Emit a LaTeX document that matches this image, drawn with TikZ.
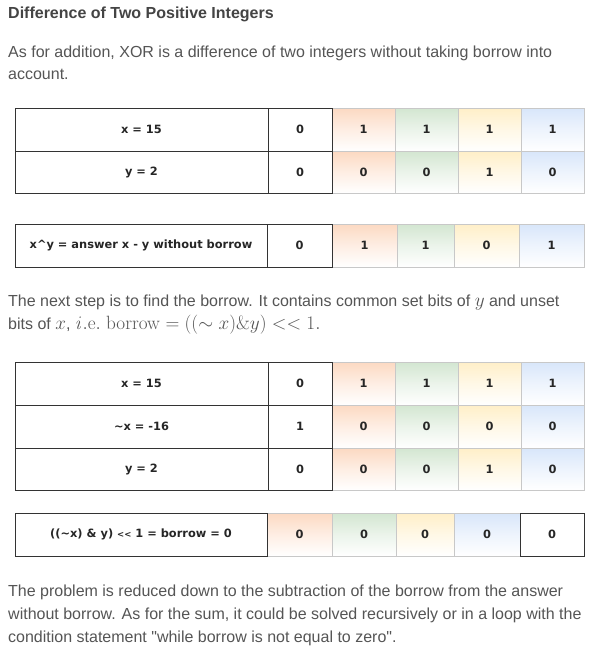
\RequirePackage{fix-cm}
\documentclass[tikz,border=0pt]{standalone}
\usepackage[no-math]{fontspec}
\setmainfont{Liberation Sans}
\newfontfamily\qf{Liberation Sans}
\newfontfamily\cellfont{DejaVu Sans}
\usetikzlibrary{calc}
\definecolor{txt}{HTML}{555555}
\definecolor{head}{HTML}{444444}
\definecolor{dk}{HTML}{333333}
\definecolor{lt}{HTML}{C8C8C8}
\definecolor{cor}{HTML}{FCD9C2}
\definecolor{cgr}{HTML}{D3E6D1}
\definecolor{cye}{HTML}{FFEFC8}
\definecolor{cbl}{HTML}{D8E6FA}
\tikzset{
  para/.style={anchor=base west, inner sep=0pt, text=txt, font=\fontsize{16}{19}\selectfont},
  cellbase/.style={inner sep=0pt, outer sep=0pt, font=\cellfont\bfseries\fontsize{11.4}{13}\selectfont, text=black!85},
  wcell/.style={cellbase, draw=dk, line width=0.9pt, fill=white},
  ccell/.style={cellbase, draw=lt, line width=0.8pt, top color=#1, bottom color=white, middle color=#1!45!white},
}
% \cellat{name}{x1}{y1}{x2}{y2}{style}{text}
\newcommand{\cellat}[7]{\node[#6, minimum width={#4-#2}, minimum height={#5-#3}] (#1) at ({(#2+#4)/2},{(#3+#5)/2}) {#7};}
\newcommand{\mth}[1]{{\fontsize{19.2}{20}\selectfont$#1$}}
\begin{document}
\begin{tikzpicture}[x=1pt,y=-1pt]
\useasboundingbox (0,0) rectangle (602,665);
\fill[white] (0,0) rectangle (602,665);
% texts
\node[para, text=head, font=\bfseries\fontsize{16}{18}\selectfont] (h) at (8,18) {Difference of Two Positive Integers};
\node[para] (p1) at (8,57) {As for addition, XOR is a difference of two integers without taking borrow into};
\node[para] (p2) at (8,79.5) {account.};
\node[para] (p3) at (8,306) {The next step is to find the borrow. It contains common set bits of \mth{y} and unset};
\node[para] (p4) at (8,329) {bits of \mth{x}, \mth{\mathit{i}\mathrm{.e.}\ \mathrm{borrow} = ((\sim x)\&y) << 1.}};
\node[para] (p5) at (8,596.5) {The problem is reduced down to the subtraction of the borrow from the answer};
\node[para] (p6) at (8,619.5) {without borrow. As for the sum, it could be solved recursively or in a loop with the};
\node[para] (p7) at (8,642) {condition statement {\qf"}while borrow is not equal to zero{\qf"}.};
% table 1
\cellat{a1o}{332}{108}{395}{151.5}{ccell=cor}{1}
\cellat{a1g}{395}{108}{458}{151.5}{ccell=cgr}{1}
\cellat{a1y}{458}{108}{521}{151.5}{ccell=cye}{1}
\cellat{a1b}{521}{108}{584}{151.5}{ccell=cbl}{1}
\cellat{a2o}{332}{151.5}{395}{193}{ccell=cor}{0}
\cellat{a2g}{395}{151.5}{458}{193}{ccell=cgr}{0}
\cellat{a2y}{458}{151.5}{521}{193}{ccell=cye}{1}
\cellat{a2b}{521}{151.5}{584}{193}{ccell=cbl}{0}
\cellat{a1l}{15}{108}{268}{151.5}{wcell}{x = 15}
\cellat{a1w}{268}{108}{332}{151.5}{wcell}{0}
\cellat{a2l}{15}{151.5}{268}{193}{wcell}{y = 2}
\cellat{a2w}{268}{151.5}{332}{193}{wcell}{0}
% table 2
\cellat{b1o}{332}{224}{397}{267}{ccell=cor}{1}
\cellat{b1g}{397}{224}{454}{267}{ccell=cgr}{1}
\cellat{b1y}{454}{224}{519}{267}{ccell=cye}{0}
\cellat{b1b}{519}{224}{584}{267}{ccell=cbl}{1}
\cellat{b1l}{15}{224}{267}{267}{wcell}{x\^{}y = answer x - y without borrow}
\cellat{b1w}{267}{224}{332}{267}{wcell}{0}
% table 3
\cellat{c1o}{332}{362}{395}{405}{ccell=cor}{1}
\cellat{c1g}{395}{362}{458}{405}{ccell=cgr}{1}
\cellat{c1y}{458}{362}{521}{405}{ccell=cye}{1}
\cellat{c1b}{521}{362}{584}{405}{ccell=cbl}{1}
\cellat{c2o}{332}{405}{395}{448}{ccell=cor}{0}
\cellat{c2g}{395}{405}{458}{448}{ccell=cgr}{0}
\cellat{c2y}{458}{405}{521}{448}{ccell=cye}{0}
\cellat{c2b}{521}{405}{584}{448}{ccell=cbl}{0}
\cellat{c3o}{332}{448}{395}{490}{ccell=cor}{0}
\cellat{c3g}{395}{448}{458}{490}{ccell=cgr}{0}
\cellat{c3y}{458}{448}{521}{490}{ccell=cye}{1}
\cellat{c3b}{521}{448}{584}{490}{ccell=cbl}{0}
\cellat{c1l}{15}{362}{268}{405}{wcell}{x = 15}
\cellat{c1w}{268}{362}{332}{405}{wcell}{0}
\cellat{c2l}{15}{405}{268}{448}{wcell}{\textasciitilde x = -16}
\cellat{c2w}{268}{405}{332}{448}{wcell}{1}
\cellat{c3l}{15}{448}{268}{490}{wcell}{y = 2}
\cellat{c3w}{268}{448}{332}{490}{wcell}{0}
% table 4
\cellat{d1o}{267}{513}{332}{556}{ccell=cor}{0}
\cellat{d1g}{332}{513}{396}{556}{ccell=cgr}{0}
\cellat{d1y}{396}{513}{454}{556}{ccell=cye}{0}
\cellat{d1b}{454}{513}{520}{556}{ccell=cbl}{0}
\cellat{d1l}{15}{513}{267}{556}{wcell}{((\textasciitilde x) \& y) {\fontsize{8.5}{10}\selectfont<<} 1 = borrow = 0}
\cellat{d1w}{520}{513}{584}{556}{wcell}{0}
\end{tikzpicture}
\end{document}
